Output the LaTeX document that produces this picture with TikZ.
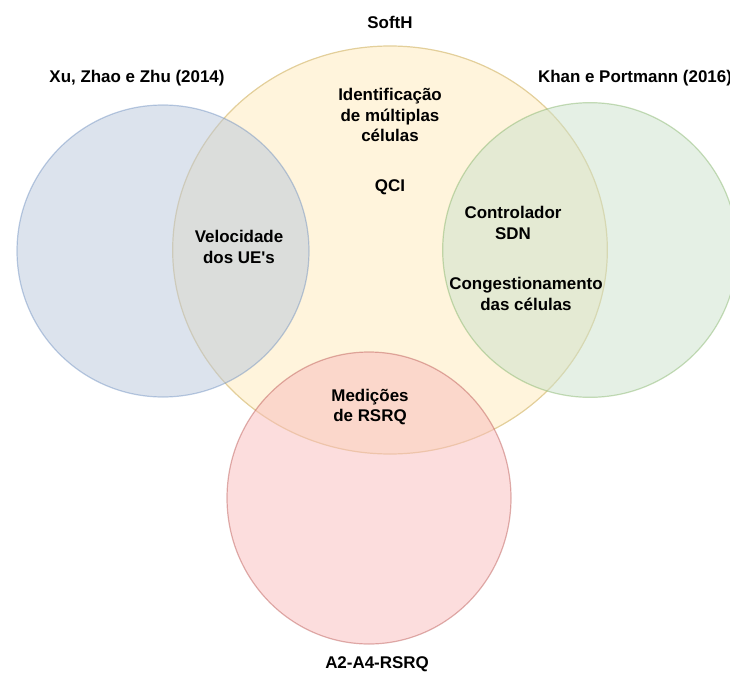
\documentclass[tikz,border=0pt]{standalone}
\usepackage{fontspec}
\setmainfont{Liberation Sans}
\usepackage{tikz}
\usetikzlibrary{shapes,arrows}

\definecolor{softhfill}{HTML}{FFF4DC}
\definecolor{softhdraw}{HTML}{E3CF9A}
\definecolor{xufill}{HTML}{B9C7DB}
\definecolor{xudraw}{HTML}{6C8EBF}
\definecolor{khanfill}{HTML}{CBE1CB}
\definecolor{khandraw}{HTML}{82B366}
\definecolor{rsrqfill}{HTML}{F9BBBB}
\definecolor{rsrqdraw}{HTML}{B85450}

\tikzstyle{venn} = [circle, inner sep=0pt, line width=0.9pt, fill opacity=0.5, draw opacity=0.45]
\tikzstyle{venntext} = [align=center, inner sep=0pt, font=\bfseries\fontsize{12.7}{15.5}\selectfont]

\begin{document}
\begin{tikzpicture}[x=0.75pt,y=-0.75pt]
\useasboundingbox (0,0) rectangle (730,677);

% cerchi
\node [venn, ellipse, fill=softhfill, fill opacity=1, draw=softhdraw, draw opacity=1,
       minimum width=326pt, minimum height=306pt] (softh) at (390,250) {};
\node [venn, fill=xufill, draw=xudraw, minimum size=219pt] (xu) at (163,251) {};
\node [venn, fill=khanfill, draw=khandraw, minimum size=221pt] (khan) at (590,250) {};
\node [venn, ellipse, fill=rsrqfill, draw=rsrqdraw, minimum width=213pt, minimum height=219pt] (rsrq) at (369,498) {};

% titoli
\node [venntext] (softhtitle) at (390,22) {SoftH};
\node [venntext] (xutitle) at (137,78) {Xu, Zhao e Zhu (2014)};
\node [venntext] (khantitle) at (635,78) {Khan e Portmann (2016)};
\node [venntext] (rsrqtitle) at (377,664) {A2-A4-RSRQ};

% contenuti
\node [venntext] (ident) at (390,115) {Identificação\\de múltiplas\\células};
\node [venntext] (qci) at (390,187) {QCI};
\node [venntext] (veloc) at (239,247) {Velocidade\\dos UE\textquotesingle s};
\node [venntext] (sdn) at (513,223) {Controlador\\SDN};
\node [venntext] (cong) at (526,294) {Congestionamento\\das células};
\node [venntext] (medic) at (370,407) {Medições\\de RSRQ};
\end{tikzpicture}
\end{document}
